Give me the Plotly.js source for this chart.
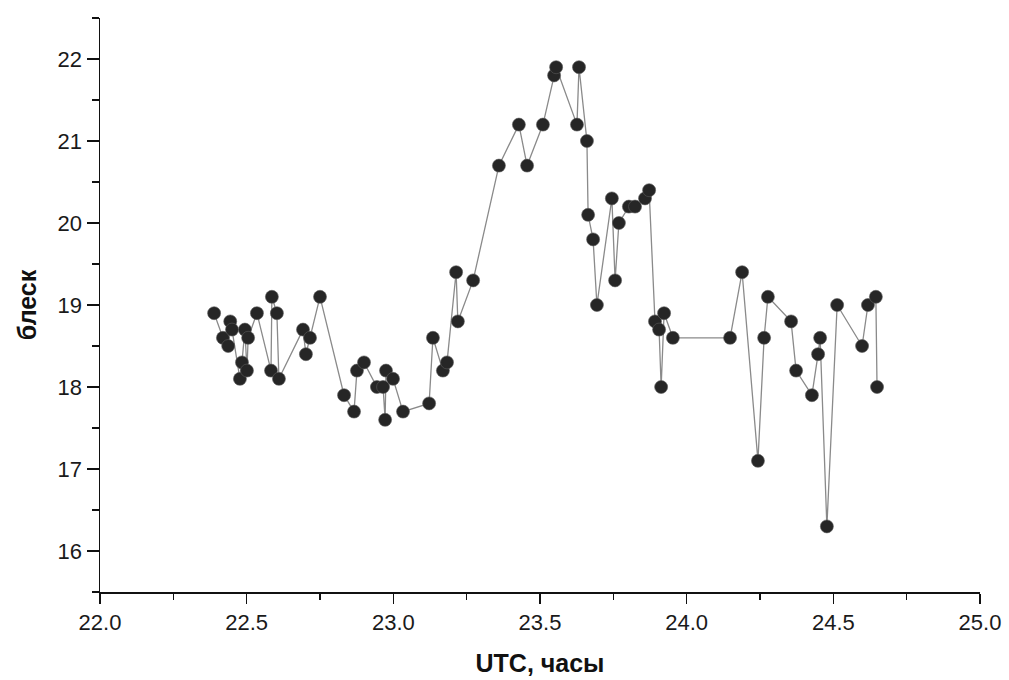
<!DOCTYPE html>
<html>
<head>
<meta charset="utf-8">
<script src="https://cdn.plot.ly/plotly-3.0.1.min.js"></script>
<style>html,body{margin:0;padding:0;background:#fff;}#chart{width:1009px;height:680px;}</style>
</head>
<body>
<div id="chart"></div>
<script>
// UTC time, hours
const utcHours = [
  22.389, 22.419, 22.437, 22.444, 22.450, 22.477, 22.484, 22.494, 22.501, 22.505,
  22.535, 22.583, 22.586, 22.603, 22.610, 22.692, 22.702, 22.716, 22.750, 22.832,
  22.866, 22.876, 22.900, 22.944, 22.965, 22.972, 22.975, 22.999, 23.033, 23.122,
  23.135, 23.169, 23.183, 23.214, 23.220, 23.272, 23.360, 23.428, 23.456, 23.510,
  23.548, 23.555, 23.626, 23.633, 23.660, 23.664, 23.681, 23.694, 23.745, 23.756,
  23.769, 23.803, 23.824, 23.858, 23.872, 23.892, 23.906, 23.913, 23.923, 23.953,
  24.148, 24.189, 24.243, 24.264, 24.277, 24.356, 24.373, 24.427, 24.448, 24.455,
  24.478, 24.513, 24.598, 24.618, 24.645, 24.649
];
// brightness (magnitude)
const brightness = [
  18.9, 18.6, 18.5, 18.8, 18.7, 18.1, 18.3, 18.7, 18.2, 18.6,
  18.9, 18.2, 19.1, 18.9, 18.1, 18.7, 18.4, 18.6, 19.1, 17.9,
  17.7, 18.2, 18.3, 18.0, 18.0, 17.6, 18.2, 18.1, 17.7, 17.8,
  18.6, 18.2, 18.3, 19.4, 18.8, 19.3, 20.7, 21.2, 20.7, 21.2,
  21.8, 21.9, 21.2, 21.9, 21.0, 20.1, 19.8, 19.0, 20.3, 19.3,
  20.0, 20.2, 20.2, 20.3, 20.4, 18.8, 18.7, 18.0, 18.9, 18.6,
  18.6, 19.4, 17.1, 18.6, 19.1, 18.8, 18.2, 17.9, 18.4, 18.6,
  16.3, 19.0, 18.5, 19.0, 19.1, 18.0
];
const xTitle = 'UTC, часы';
const yTitle = 'блеск';

const trace = {
  x: utcHours,
  y: brightness,
  type: 'scatter',
  mode: 'lines+markers',
  line: {color: '#8a8a8a', width: 1.3},
  marker: {size: 13, color: '#262626', line: {color: '#5a5a5a', width: 0.6}},
  hoverinfo: 'skip'
};

const tickFont = {family: 'Liberation Sans, Arial, sans-serif', size: 22, color: '#1a1a1a'};
const titleFont = {family: 'Liberation Sans, Arial, sans-serif', size: 25, color: '#111', weight: 'bold'};

const layout = {
  width: 1009,
  height: 680,
  margin: {l: 100, r: 29, t: 18, b: 88},
  paper_bgcolor: '#fff',
  plot_bgcolor: '#fff',
  showlegend: false,
  xaxis: {
    range: [22, 25],
    dtick: 0.5,
    tick0: 22,
    tickformat: '.1f',
    ticks: 'outside',
    ticklen: 10,
    tickwidth: 1.5,
    tickcolor: '#111',
    showline: true,
    linecolor: '#111',
    linewidth: 1.5,
    showgrid: false,
    zeroline: false,
    tickfont: tickFont,
    minor: {dtick: 0.25, ticks: 'outside', ticklen: 6, tickwidth: 1.2, tickcolor: '#111', showgrid: false},
    title: {text: xTitle, font: titleFont, standoff: 20},
    automargin: false
  },
  yaxis: {
    range: [15.5, 22.5],
    dtick: 1,
    tick0: 16,
    ticks: 'outside',
    ticklen: 12,
    tickwidth: 1.5,
    tickcolor: '#111',
    showline: true,
    linecolor: '#111',
    linewidth: 1.5,
    showgrid: false,
    zeroline: false,
    tickfont: tickFont,
    minor: {dtick: 0.5, ticks: 'outside', ticklen: 7, tickwidth: 1.2, tickcolor: '#111', showgrid: false},
    title: {text: yTitle, font: titleFont, standoff: 14},
    automargin: false
  }
};

Plotly.newPlot('chart', [trace], layout, {displayModeBar: false, staticPlot: true});
</script>
</body>
</html>
